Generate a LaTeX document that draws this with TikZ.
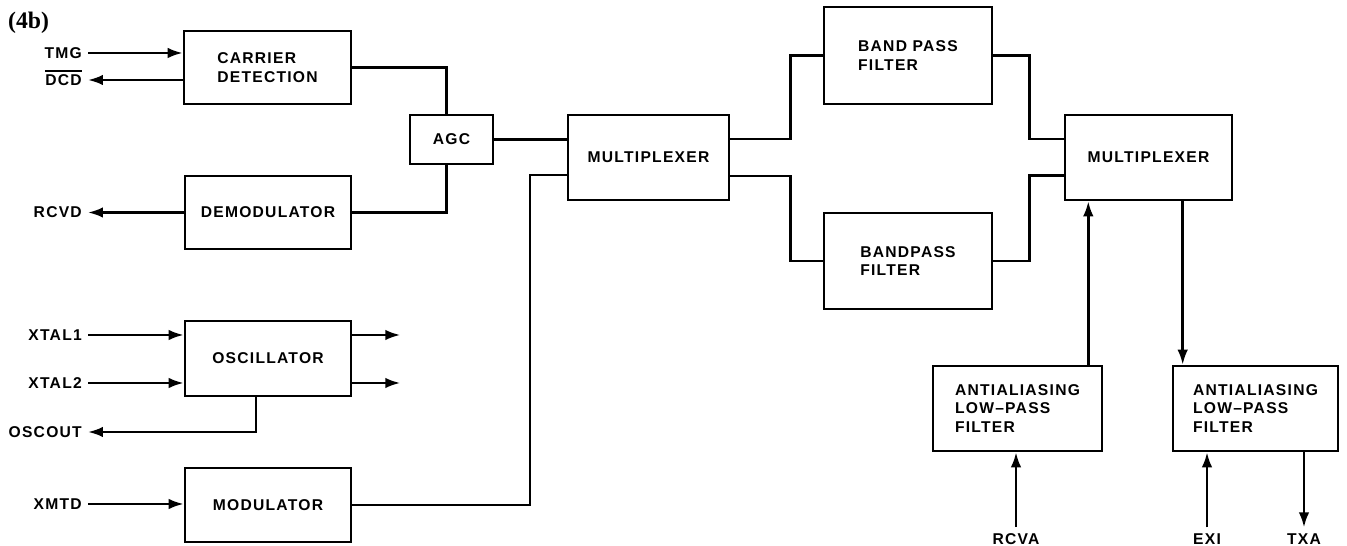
\documentclass[tikz,border=0pt]{standalone}
\usepackage{fontspec}
\usetikzlibrary{arrows.meta,positioning}
\newfontfamily\blkfont[LetterSpace=8]{Liberation Sans}
\newfontfamily\figfont{Liberation Serif}
\newcommand{\barlbl}[1]{\setbox0\hbox{#1}\smash{\rlap{\rule[\dimexpr\ht0+1.6pt]{\wd0}{0.7pt}}}#1}

\begin{document}
\begin{tikzpicture}[x=0.02cm,y=-0.02cm,>={Latex[length=3mm,width=2.1mm]},line width=1.4pt,
  blk/.style={draw,line width=1.5pt,font=\blkfont\bfseries\fontsize{8.9}{10.5}\selectfont,align=left,inner sep=0pt},
  lbl/.style={font=\blkfont\bfseries\fontsize{8.9}{10.5}\selectfont,inner sep=0.1cm}]
\useasboundingbox(0,0)rectangle(1347,546);
\node[anchor=west,font=\figfont\bfseries\fontsize{13.5}{15}\selectfont,inner sep=0pt](fig)at(7,23){(4b)};
\node[blk,minimum width=3.34cm,minimum height=1.46cm](car)at(267.5,67.5){CARRIER\\DETECTION};
\node[blk,minimum width=3.32cm,minimum height=1.46cm](dem)at(268,212.5){DEMODULATOR};
\node[blk,minimum width=3.32cm,minimum height=1.5cm](osc)at(268,358.5){OSCILLATOR};
\node[blk,minimum width=3.32cm,minimum height=1.48cm](mod)at(268,505){MODULATOR};
\node[blk,minimum width=1.66cm,minimum height=0.98cm](agc)at(451.5,139.5){AGC};
\node[blk,minimum width=3.22cm,minimum height=1.7cm](mx1)at(648.5,157.5){MULTIPLEXER};
\node[blk,minimum width=3.34cm,minimum height=1.7cm](mx2)at(1148.5,157.5){MULTIPLEXER};
\node[blk,minimum width=3.36cm,minimum height=1.94cm](bp1)at(908,55.5){BAND PASS\\FILTER};
\node[blk,minimum width=3.36cm,minimum height=1.92cm](bp2)at(908,261){BANDPASS\\FILTER};
\node[blk,minimum width=3.38cm,minimum height=1.7cm](aa1)at(1017.5,408.5){ANTIALIASING\\LOW\textendash PASS\\FILTER};
\node[blk,minimum width=3.3cm,minimum height=1.7cm](aa2)at(1255.5,408.5){ANTIALIASING\\LOW\textendash PASS\\FILTER};
\node[lbl,anchor=east](tmg)at(88,53){TMG};
\node[lbl,anchor=east](dcd)at(88,80){\barlbl{DCD}};
\node[lbl,anchor=east](rcvd)at(88,212.5){RCVD};
\node[lbl,anchor=east](x1)at(88,335){XTAL1};
\node[lbl,anchor=east](x2)at(88,383){XTAL2};
\node[lbl,anchor=east](osco)at(88,432){OSCOUT};
\node[lbl,anchor=east](xmtd)at(88,504){XMTD};
\node[lbl](rcva)at(1016,539){RCVA};
\node[lbl](exi)at(1207,539){EXI};
\node[lbl](txa)at(1304,539){TXA};
\draw[->](tmg)--(tmg-|car.west);
\draw[->](dcd-|car.west)--(dcd);
\draw(car.east)-|([xshift=-0.1cm]agc.north);
\draw(dem.east)-|([xshift=-0.1cm]agc.south);
\draw[->](dem.west)--(rcvd);
\draw[->](x1)--(x1-|osc.west);
\draw[->](x2)--(x2-|osc.west);
\draw[->](osc.east|-x1)--++(48,0);
\draw[->](osc.east|-x2)--++(48,0);
\draw[->]([xshift=-0.24cm]osc.south)|-(osco);
\draw[->](xmtd)--(xmtd-|mod.west);
\coordinate(j1)at(530,175);
\draw(mod.east)-|(j1)--(j1-|mx1.west);
\draw(agc)--(agc-|mx1.west);
\draw([yshift=0.37cm]mx1.east)--++(60,0)|-(bp1);
\draw([yshift=-0.37cm]mx1.east)--++(60,0)|-(bp2);
\draw(bp1.east)--++(36,0)|-([yshift=0.37cm]mx2.west);
\draw(bp2.east)--++(36,0)|-([yshift=-0.36cm]mx2.west);
\coordinate(rx)at([xshift=-0.3cm]aa1.north east);
\draw[->](rx)--(rx|-mx2.south);
\coordinate(tx)at([xshift=0.22cm]aa2.north west);
\draw[->](tx|-mx2.south)--(tx);
\draw[->](rcva)--(rcva|-aa1.south);
\draw[->](exi)--(exi|-aa2.south);
\draw[->](txa|-aa2.south)--(txa);
\end{tikzpicture}
\end{document}
